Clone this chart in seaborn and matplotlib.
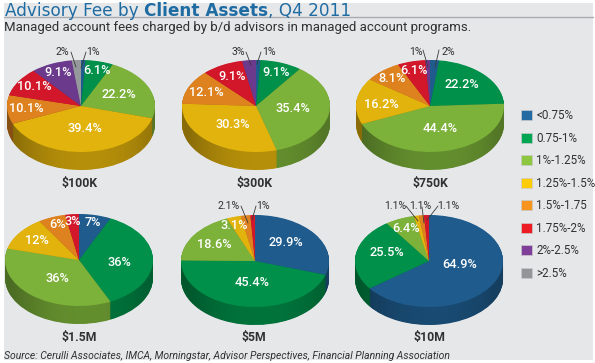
import numpy as np
import matplotlib
matplotlib.use("Agg")
import matplotlib.pyplot as plt
from matplotlib.patches import Rectangle, Polygon, Patch
from matplotlib.lines import Line2D
import seaborn as sns

categories = ["<0.75%", "0.75-1%", "1%-1.25%", "1.25%-1.5%", "1.5%-1.75", "1.75%-2%", "2%-2.5%", ">2.5%"]
pie_names = ["$100K", "$300K", "$750K", "$1.5M", "$5M", "$10M"]
values_100k = [1, 6.1, 22.2, 39.4, 10.1, 10.1, 9.1, 2]
values_300k = [1, 9.1, 35.4, 30.3, 12.1, 9.1, 3, 0]
values_750k = [2, 22.2, 44.4, 16.2, 8.1, 6.1, 1, 0]
values_1_5m = [7, 36, 36, 12, 6, 3, 0, 0]
values_5m = [29.9, 45.4, 18.6, 3.1, 2.1, 1, 0, 0]
values_10m = [64.9, 25.5, 6.4, 1.1, 1.1, 1.1, 0, 0]
all_values = [values_100k, values_300k, values_750k, values_1_5m, values_5m, values_10m]

slice_colors = ["#1f5c8d", "#00904a", "#7cb13a", "#e2b30c", "#dd821f", "#d2172a", "#6b3a8c", "#96999c"]
legend_colors = ["#236ba2", "#00a651", "#8dc63f", "#ffcb05", "#f7941d", "#ed1c24", "#7f3f98", "#939598"]

# layout, in reference pixels
W, H = 595, 363
centers = [(81, 106), (256, 106), (430, 106), (79, 260), (255, 261), (429, 261)]
name_pos = [(80, 183), (255, 183), (430, 183), (79, 337), (254, 337), (429, 338)]
RX, RY, DEPTH = 74, 46, 18
inside_labels = [
    [(97, 71, "6.1%"), (119, 95, "22.2%"), (85, 129, "39.4%"), (26, 109, "10.1%"), (34, 87, "10.1%"), (58, 73, "9.1%")],
    [(276, 72, "9.1%"), (293, 109, "35.4%"), (233, 125, "30.3%"), (206, 93, "12.1%"), (232, 76, "9.1%")],
    [(462, 85, "22.2%"), (440, 128, "44.4%"), (381, 104, "16.2%"), (392, 78, "8.1%"), (414, 71, "6.1%")],
    [(93, 223, "7%"), (119, 262, "36%"), (57, 279, "36%"), (37, 240, "12%"), (57, 224, "6%"), (73, 221, "3%")],
    [(286, 243, "29.9%"), (252, 283, "45.4%"), (214, 244, "18.6%"), (234, 225, "3.1%")],
    [(406, 228, "6.4%"), (387, 253, "25.5%"), (460, 265, "64.9%")],
]
callouts = [
    (62, 52, "2%", 71, 52, 76, 67), (93, 52, "1%", 86, 52, 81, 68),
    (238, 52, "3%", 246, 52, 251, 65), (269, 52, "1%", 261, 52, 257, 64),
    (416, 52, "1%", 423, 50, 428, 67), (448, 52, "2%", 439, 50, 435, 67),
    (229, 206, "2.1%", 241, 206, 248, 223), (263, 206, "1%", 256, 206, 252, 220),
    (395, 206, "1.1%", 406, 206, 418, 221), (420, 206, "1.1%", 422, 207, 424, 223),
    (448, 206, "1.1%", 438, 206, 427, 220),
]

sns.set_theme(style="white", rc={"font.family": ["Roboto", "DejaVu Sans"]})
palette = sns.color_palette(slice_colors)
dark = "#2f3133"


def fx(x):
    return x / W


def fy(y):
    return 1 - y / H


fig = plt.figure(figsize=(W / 100, H / 100), dpi=100, facecolor="white")
fig.add_artist(Rectangle((fx(4), fy(360)), 589 / W, 357 / H, transform=fig.transFigure,
                         facecolor="#e6e7e9", edgecolor="none", zorder=-5))
fig.add_artist(Line2D([fx(4), fx(593)], [fy(16.5), fy(16.5)], color="#a9abae", lw=1.0, zorder=-4))

shade = np.array([[0.24, 0.16, 0.09, 0.04, 0.01, 0.0, 0.0, 0.01, 0.04, 0.08, 0.16]])
shade_rgba = np.zeros((1, shade.shape[1], 4))
shade_rgba[..., 3] = shade

for vals, (cx, cy), name, in zip(all_values, centers, pie_names):
    margin = 1.05
    ax = fig.add_axes([fx(cx - RX * margin), fy(cy + RY + DEPTH + 4),
                       2 * RX * margin / W, (2 * RY + DEPTH + 8) / H])
    d = DEPTH / RY
    keep = [(v, c) for v, c in zip(vals, palette) if v > 0]
    v_kept = [k[0] for k in keep]
    c_kept = [k[1] for k in keep]
    side = [tuple(np.array(c) * 0.8) for c in c_kept]
    for i in range(DEPTH * 2, 0, -1):
        ax.pie(v_kept, colors=side, startangle=90, counterclock=False, radius=1,
               center=(0, -d * i / (DEPTH * 2)),
               wedgeprops={"linewidth": 0.4, "edgecolor": "none", "zorder": 1})
    theta = np.linspace(np.pi, 2 * np.pi, 120)
    outline = np.column_stack([np.cos(theta), np.sin(theta) - d])
    outline = np.vstack([[-1, 0], outline, [1, 0]])
    clip = Polygon(outline, closed=True, transform=ax.transData, facecolor="none", edgecolor="none")
    ax.add_patch(clip)
    im = ax.imshow(shade_rgba, extent=(-1, 1, -1 - d, 0), aspect="auto", zorder=1.5,
                   interpolation="bilinear")
    im.set_clip_path(clip)
    ax.pie(v_kept, colors=c_kept, startangle=90, counterclock=False, radius=1,
           wedgeprops={"linewidth": 0, "zorder": 2})
    ax.set_aspect("auto")
    ax.set_xlim(-margin, margin)
    ax.set_ylim(-1 - d - 4 / RY, 1 + 4 / RY)
    ax.axis("off")

for group in inside_labels:
    for x, y, t in group:
        fig.text(fx(x), fy(y), t, color="white", fontsize=9.2, fontweight="medium",
                 ha="center", va="center", zorder=10)
for x, y, t, x0, y0, x1, y1 in callouts:
    fig.text(fx(x), fy(y), t, color=dark, fontsize=7.6, ha="center", va="center", zorder=10)
    fig.add_artist(Line2D([fx(x0), fx(x1)], [fy(y0), fy(y1)], color="#3a3a3a", lw=0.6, zorder=10))
for (x, y), t in zip(name_pos, pie_names):
    fig.text(fx(x), fy(y), t, color=dark, fontsize=8.8, fontweight="bold", ha="center", va="center", zorder=10)

handles = [Patch(facecolor=c, edgecolor="#c9cacc", linewidth=0.5) for c in legend_colors]
fig.legend(handles, categories, loc="upper left", bbox_to_anchor=(fx(521), fy(109)),
           frameon=False, fontsize=8.4, labelcolor=dark, borderpad=0, borderaxespad=0,
           labelspacing=0.82, handlelength=0.94, handleheight=0.94, handletextpad=0.36)

# title made of runs with different weights
renderer = fig.canvas.get_renderer()
x_run = 5.0
for txt, weight in [("Advisory Fee by ", "normal"), ("Client Assets", "bold"), (", Q4 2011", "normal")]:
    t = fig.text(fx(x_run), fy(16), txt.replace(" ", "\u00a0"), color="#1f6ca3", fontsize=12.2,
                 fontweight=weight, family="DejaVu Sans", ha="left", va="baseline", zorder=10)
    x_run += t.get_window_extent(renderer).width

fig.text(fx(4), fy(27.5), "Managed account fees charged by b/d advisors in managed account programs.",
         color=dark, fontsize=9.55, ha="left", va="center", zorder=10)
fig.text(fx(4), fy(356), "Source: Cerulli Associates, IMCA, Morningstar, Advisor Perspectives, Financial Planning Association",
         color=dark, fontsize=7.45, style="italic", ha="left", va="center", zorder=10)

fig.savefig("out.png", dpi=100, facecolor="white")
